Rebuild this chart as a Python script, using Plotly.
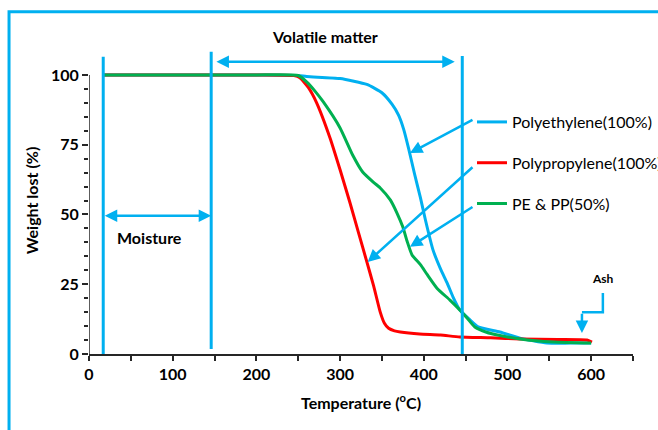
import plotly.graph_objects as go

# ---- data ----
pe_temp = [17, 100, 200, 250, 260, 300, 332, 350, 362, 370, 376, 382, 389, 396, 402, 411,
           420, 428, 435, 443, 455, 465, 491, 515, 547, 575, 600]
pe_wt = [100, 100, 100, 99.8, 99.4, 98.7, 96.6, 93.6, 89.5, 85.5, 80.5, 73.5, 64.5, 56.0, 48.0,
         37.3, 30.5, 25.4, 20.4, 15.8, 12.3, 9.7, 7.9, 5.7, 3.9, 3.9, 3.9]

pp_temp = [17, 100, 200, 245, 252, 262, 272, 288, 300, 312, 322, 332, 340, 348, 353, 358,
           365, 372, 395, 420, 443, 480, 515, 560, 595, 601]
pp_wt = [100, 100, 100, 99.8, 99.0, 95.5, 90.0, 77.4, 66.0, 54.0, 43.5, 33.0, 24.5, 15.0,
         11.0, 9.2, 8.3, 7.9, 7.2, 6.8, 6.1, 5.8, 5.4, 5.2, 5.0, 4.3]

mix_temp = [17, 100, 200, 250, 260, 270, 280, 300, 315, 327, 340, 348, 360, 368, 375, 380,
            386, 396, 404, 416, 431, 443, 452, 461, 475, 488, 515, 555, 600]
mix_wt = [100, 100, 100, 99.8, 97.5, 94.2, 90.3, 81.0, 71.3, 65.2, 61.5, 59.5, 55.2, 50.5,
          45.5, 40.5, 35.5, 32.0, 28.5, 23.5, 19.4, 15.8, 12.8, 9.7, 7.8, 6.8, 5.4, 4.3, 3.9]

series_names = ["Polyethylene(100%)", "Polypropylene(100%)", "PE & PP(50%)"]
series_colors = ["#00B0F0", "#FF0000", "#00B050"]

x_ticks = [0, 100, 200, 300, 400, 500, 600]
y_ticks = [0, 25, 50, 75, 100]
y_minor = [v for v in range(0, 101, 5)]

BLUE = "#00B0F0"
FONT = "Lato"
AX = "#262626"

fig = go.Figure()
for t, w, n, c, g in zip([pe_temp, pp_temp, mix_temp], [pe_wt, pp_wt, mix_wt],
                         series_names, series_colors, ["a", "b", "c"]):
    fig.add_trace(go.Scatter(x=t, y=w, name=n, mode="lines", legendgroup=g,
                             line=dict(color=c, width=3, shape="spline", smoothing=0.5)))

shapes = []
# y axis line
shapes.append(dict(type="line", xref="x", yref="y", x0=0, x1=0, y0=0, y1=100,
                   line=dict(color=AX, width=1.5), layer="above"))
# vertical markers
for xv, y0, y1 in [(17, 0, 106.5), (146, 1.8, 108.3), (446, 0, 106.8)]:
    shapes.append(dict(type="line", xref="x", yref="y", x0=xv, x1=xv, y0=y0, y1=y1,
                       line=dict(color=BLUE, width=3)))
# Ash connector
shapes.append(dict(type="path", xref="x", yref="y", path="M 614,21.9 L 614,15 L 589,15",
                   line=dict(color=BLUE, width=2.5)))
# outer frame
shapes.append(dict(type="rect", xref="paper", yref="paper", x0=-0.147, x1=1.3, y0=-0.4, y1=1.115,
                   line=dict(color=BLUE, width=3), layer="below"))

ann = []
def arrow(x, y, ax, ay, both=False):
    return dict(x=x, y=y, ax=ax, ay=ay, xref="x", yref="y", axref="x", ayref="y", text="",
                showarrow=True, arrowhead=2, arrowsize=1, arrowwidth=2.5, arrowcolor=BLUE,
                arrowside="end+start" if both else "end", startarrowhead=2, startarrowsize=1)

ann.append(arrow(437, 104.7, 150.5, 104.7, both=True))
ann.append(arrow(146, 49.5, 17, 49.5, both=True))
ann.append(arrow(383.5, 72, 460, 84.2))
ann.append(arrow(333, 33, 460, 67.4))
ann.append(arrow(383.5, 38.4, 460, 53))
ann.append(arrow(589, 7.5, 589, 15))
ann.append(dict(x=282, y=1.033, xref="x", yref="paper", yanchor="middle", text="Volatile matter",
                showarrow=False, font=dict(family=FONT, size=16, color="#000", weight="bold")))
ann.append(dict(x=72, y=41.6, xref="x", yref="y", text="Moisture", showarrow=False,
                font=dict(family=FONT, size=16, color="#000", weight="bold")))
ann.append(dict(x=614, y=27, xref="x", yref="y", text="Ash", showarrow=False,
                font=dict(family=FONT, size=12, color="#000", weight="bold")))

fig.update_layout(
    width=658, height=430,
    margin=dict(l=89, r=25, t=47, b=76, autoexpand=False),
    paper_bgcolor="white", plot_bgcolor="white",
    shapes=shapes, annotations=ann,
    font=dict(family=FONT, color="#000"),
    legend=dict(x=0.704, y=0.811, xanchor="left", yanchor="top", tracegroupgap=17,
                font=dict(family=FONT, size=16, color="#000"), bgcolor="rgba(0,0,0,0)"),
    xaxis=dict(range=[0, 650], tickvals=x_ticks, ticks="outside", ticklen=5, tickwidth=1.5,
               tickcolor=AX, showline=True, linecolor=AX, linewidth=1.5, showgrid=False,
               zeroline=False, minor=dict(dtick=50, tick0=0, ticks="outside", ticklen=5,
                                          tickwidth=1.5, tickcolor=AX),
               tickfont=dict(family=FONT, size=16, weight="bold"),
               title=dict(text="Temperature (<sup>o</sup>C)", standoff=16,
                          font=dict(family=FONT, size=16, weight="bold"))),
    yaxis=dict(range=[0, 110], tickvals=y_ticks, ticks="outside", ticklen=6, tickwidth=1.5,
               tickcolor=AX, showline=False, showgrid=False, zeroline=False,
               minor=dict(tickvals=y_minor, ticks="outside", ticklen=4, tickwidth=1.5, tickcolor=AX),
               tickfont=dict(family=FONT, size=16, weight="bold"),
               title=dict(text="Weight lost (%)", standoff=8,
                          font=dict(family=FONT, size=16, weight="bold"))),
)

fig.write_html("out.html", config={"displayModeBar": False},
               post_script="document.body.style.margin='0';")
